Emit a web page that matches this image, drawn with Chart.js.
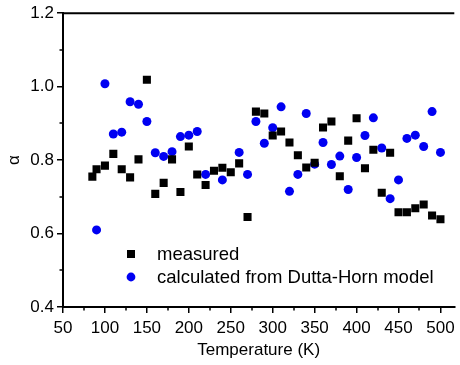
<!DOCTYPE html>
<html>
<head>
<meta charset="utf-8">
<script src="https://cdn.jsdelivr.net/npm/chart.js@4/dist/chart.umd.min.js"></script>
<style>
  html, body { margin: 0; padding: 0; background: #fff; }
  #wrap { width: 460px; height: 365px; }
</style>
</head>
<body>
<div id="wrap"><canvas id="c" width="460" height="365"></canvas></div>
<script>
// Temperature (K) and exponent alpha, measured
const measuredT = [85, 90, 100, 110, 120, 130, 140, 150, 160, 170, 180, 190, 200, 210, 220, 230, 240, 250, 260, 270,
  280, 290, 300, 310, 320, 330, 340, 350, 360, 370, 380, 390, 400, 410, 420, 430, 440, 450, 460, 470, 480, 490, 500];
const measuredAlpha = [0.755, 0.775, 0.785, 0.817, 0.775, 0.753, 0.802, 1.019, 0.708, 0.738, 0.802, 0.713, 0.837, 0.761, 0.732, 0.771, 0.779, 0.767, 0.791, 0.645,
  0.932, 0.927, 0.867, 0.878, 0.848, 0.813, 0.780, 0.793, 0.889, 0.905, 0.756, 0.853, 0.914, 0.778, 0.828, 0.711, 0.820, 0.658, 0.658, 0.669, 0.679, 0.649, 0.639];

// Temperature (K) and alpha calculated from the Dutta-Horn model
const modelT = [90, 100, 110, 120, 130, 140, 150, 160, 170, 180, 190, 200, 210, 220, 240, 260, 270,
  280, 290, 300, 310, 320, 330, 340, 350, 360, 370, 380, 390, 400, 410, 420, 430, 440, 450, 460, 470, 480, 490, 500];
const modelAlpha = [0.610, 1.008, 0.871, 0.876, 0.959, 0.952, 0.905, 0.820, 0.810, 0.823, 0.864, 0.868, 0.878, 0.761, 0.746, 0.821, 0.761,
  0.905, 0.846, 0.888, 0.945, 0.715, 0.761, 0.927, 0.789, 0.848, 0.788, 0.811, 0.720, 0.807, 0.867, 0.915, 0.833, 0.695, 0.746, 0.859, 0.868, 0.837, 0.932, 0.821];

const seriesNames = ['measured', 'calculated from Dutta-Horn model'];
const xTitle = 'Temperature (K)';
const yTitle = 'α';

const FONT = '"Liberation Sans", Arial, sans-serif';
const BLUE = '#0000F2';

function toPoints(xs, ys) { return xs.map((x, i) => ({ x: x, y: ys[i] })); }

// Frame: top border line plus minor ticks on both axes
const framePlugin = {
  id: 'frame',
  afterDraw(chart) {
    const { ctx, chartArea: a, scales } = chart;
    ctx.save();
    ctx.strokeStyle = '#000';
    ctx.lineWidth = 2;
    ctx.beginPath();
    ctx.moveTo(a.left - 1, a.top);
    ctx.lineTo(a.right, a.top);
    ctx.stroke();
    ctx.lineWidth = 1.5;
    ctx.beginPath();
    for (let v = 75; v < scales.x.max; v += 50) {
      const px = Math.round(scales.x.getPixelForValue(v));
      ctx.moveTo(px, a.bottom);
      ctx.lineTo(px, a.bottom + 3.5);
    }
    for (let v = 0.5; v < 1.2; v += 0.2) {
      const py = Math.round(scales.y.getPixelForValue(v));
      ctx.moveTo(a.left, py);
      ctx.lineTo(a.left - 3.5, py);
    }
    ctx.stroke();
    ctx.restore();
  }
};

// Legend placed inside the plotting area
const insideLegend = {
  id: 'insideLegend',
  afterDraw(chart) {
    const { ctx } = chart;
    ctx.save();
    ctx.font = '18.5px ' + FONT;
    ctx.textBaseline = 'middle';
    ctx.fillStyle = '#000';
    ctx.fillRect(127, 250, 8, 8);
    ctx.fillText(seriesNames[0], 157, 255);
    ctx.fillStyle = BLUE;
    ctx.beginPath();
    ctx.arc(131, 277, 4.4, 0, Math.PI * 2);
    ctx.fill();
    ctx.fillStyle = '#000';
    ctx.fillText(seriesNames[1], 157, 278);
    ctx.restore();
  }
};

new Chart(document.getElementById('c'), {
  type: 'scatter',
  data: {
    datasets: [
      {
        label: seriesNames[0],
        data: toPoints(measuredT, measuredAlpha),
        pointStyle: 'rect',
        pointRadius: 5.7,
        pointHoverRadius: 5.7,
        borderWidth: 0,
        backgroundColor: '#000',
        borderColor: '#000'
      },
      {
        label: seriesNames[1],
        data: toPoints(modelT, modelAlpha),
        pointStyle: 'circle',
        pointRadius: 4.5,
        pointHoverRadius: 4.5,
        borderWidth: 0,
        backgroundColor: BLUE,
        borderColor: BLUE
      }
    ]
  },
  options: {
    responsive: false,
    animation: false,
    events: [],
    layout: { padding: { top: 12, right: 0, left: 0, bottom: 0 } },
    plugins: { legend: { display: false }, tooltip: { enabled: false } },
    scales: {
      x: {
        type: 'linear',
        min: 50,
        max: 516.5,
        afterFit(s) { s.height = 58; },
        ticks: {
          stepSize: 50,
          includeBounds: false,
          color: '#000',
          font: { family: FONT, size: 17 },
          padding: 5,
          maxRotation: 0
        },
        grid: { display: true, drawOnChartArea: false, drawTicks: true, tickLength: 6, color: '#000', lineWidth: 1.5 },
        border: { display: true, color: '#000', width: 2 },
        title: { display: true, text: xTitle, color: '#000', font: { family: FONT, size: 17 }, padding: { top: 2, bottom: 4 } }
      },
      y: {
        type: 'linear',
        min: 0.4,
        max: 1.2,
        afterFit(s) { s.width = 63; },
        ticks: {
          stepSize: 0.2,
          color: '#000',
          font: { family: FONT, size: 17 },
          padding: 3,
          callback: v => v.toFixed(1)
        },
        grid: { display: true, drawOnChartArea: false, drawTicks: true, tickLength: 6, color: '#000', lineWidth: 1.5 },
        border: { display: true, color: '#000', width: 2 },
        title: { display: true, text: yTitle, color: '#000', font: { family: FONT, size: 17 }, padding: { top: 4, bottom: 0 } }
      }
    }
  },
  plugins: [framePlugin, insideLegend]
});
</script>
</body>
</html>
